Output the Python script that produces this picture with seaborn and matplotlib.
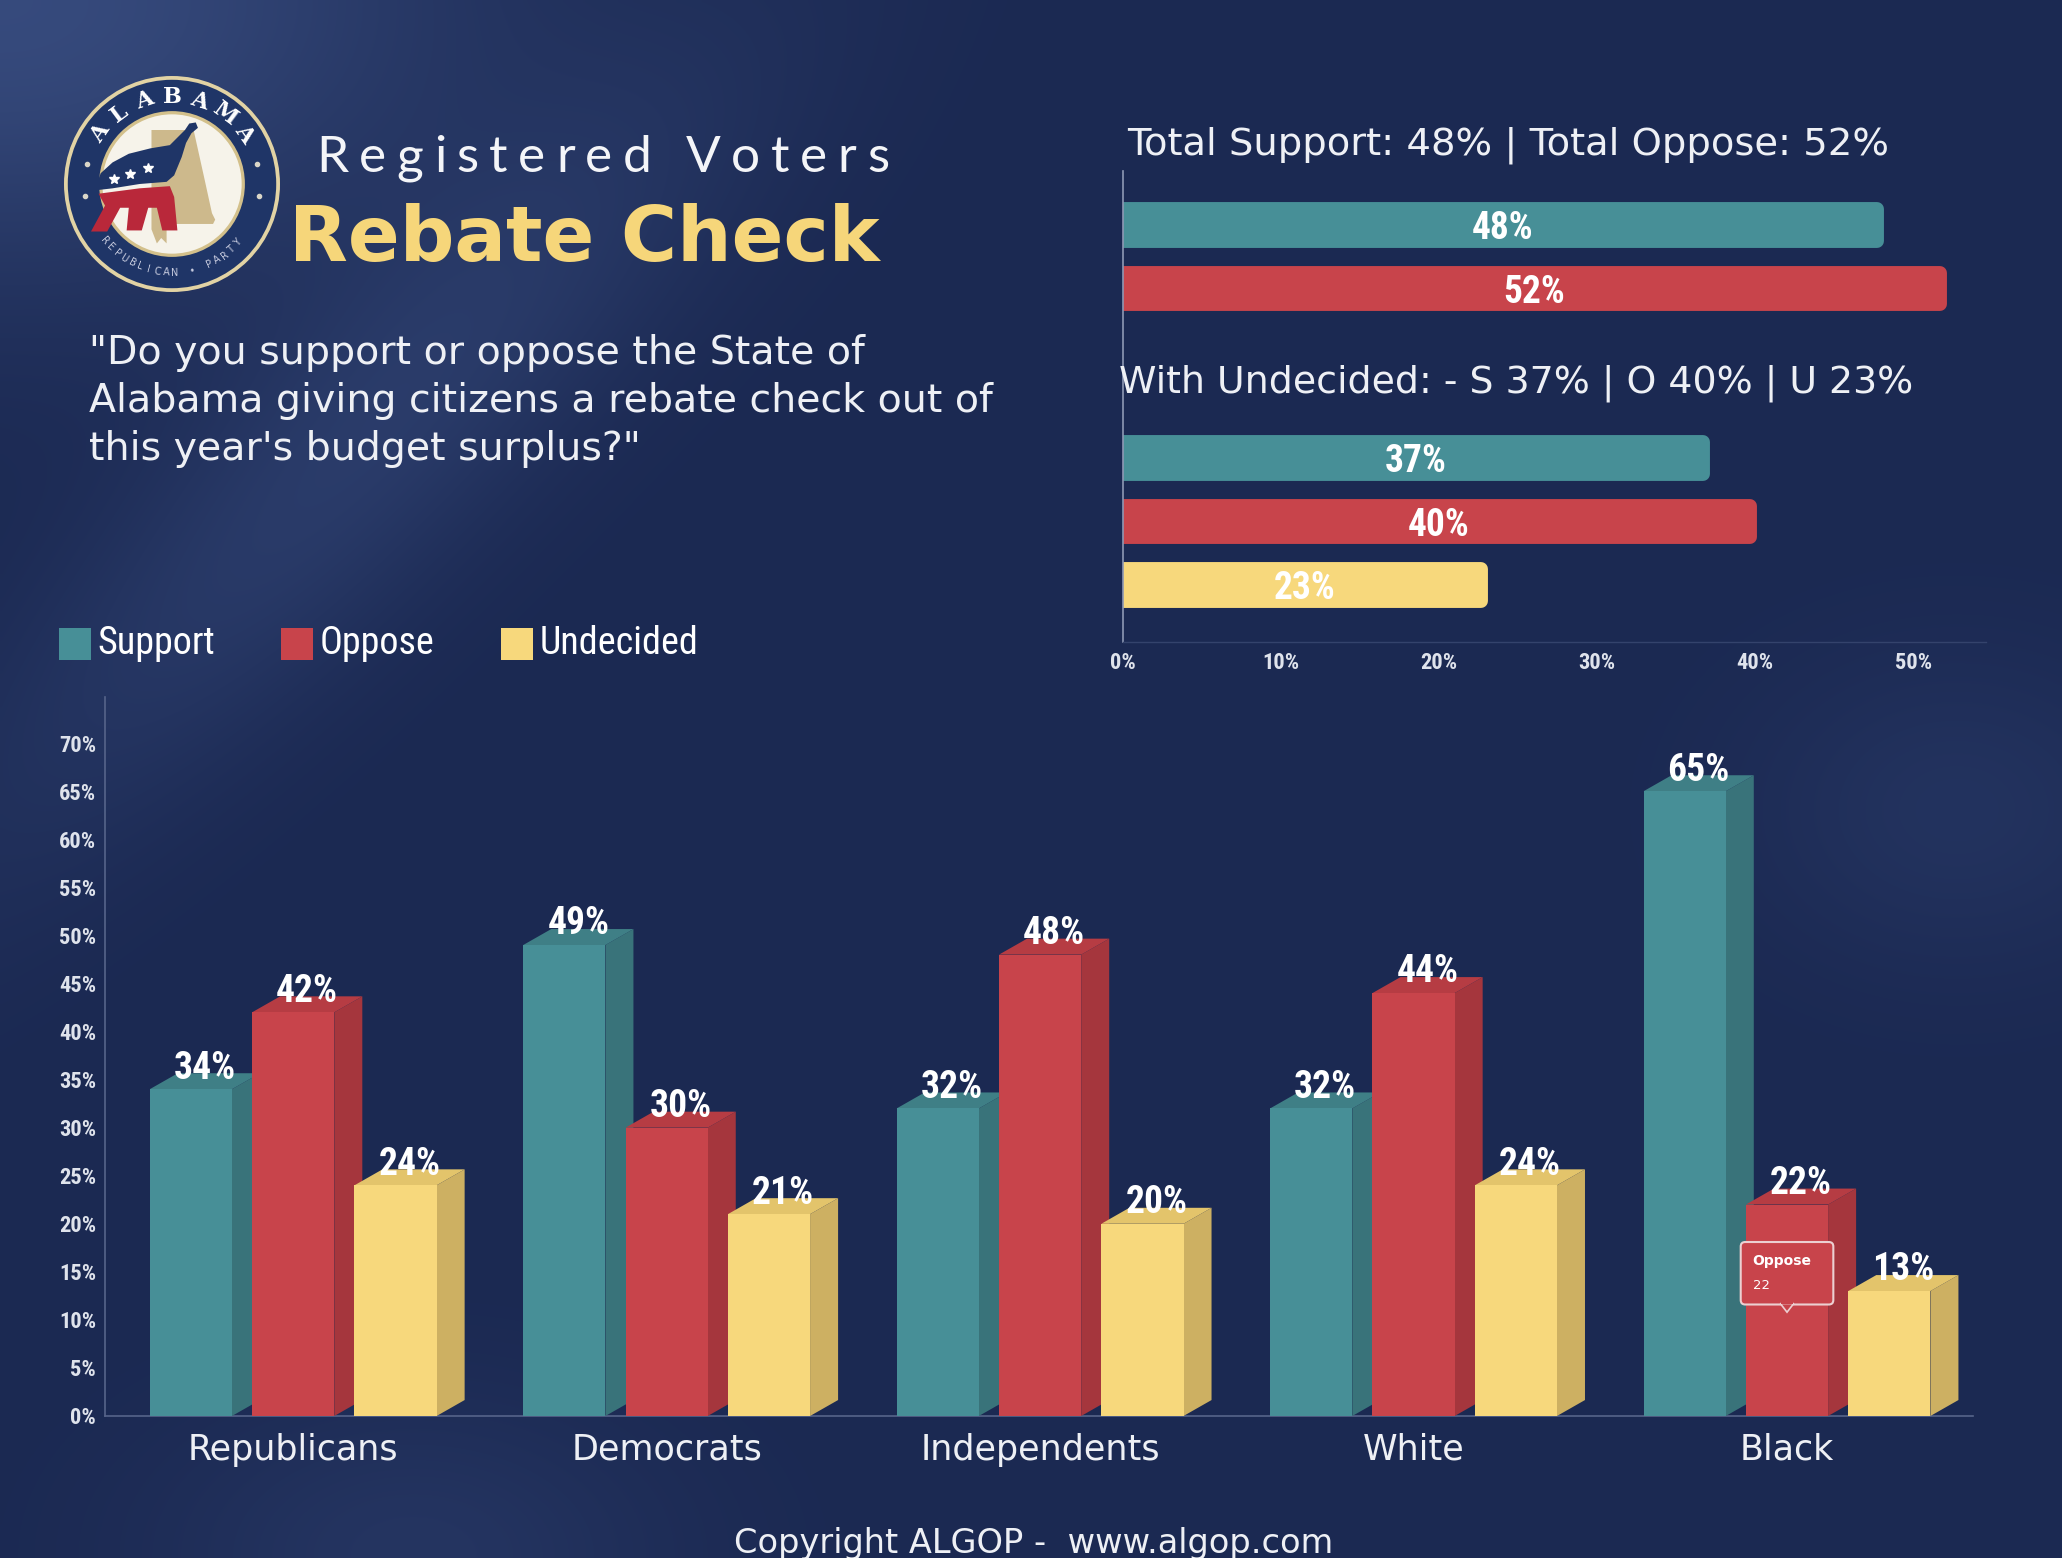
import os
import numpy as np
import pandas as pd
import matplotlib
matplotlib.use('Agg')
import matplotlib.pyplot as plt
import seaborn as sns
from matplotlib import font_manager as fm
from matplotlib.patches import Polygon, Rectangle, Circle, FancyBboxPatch

W, H = 2062, 1558

# ---- data ----
groups = ['Republicans', 'Democrats', 'Independents', 'White', 'Black']
responses = ['Support', 'Oppose', 'Undecided']
support = [34, 49, 32, 32, 65]
oppose = [42, 30, 48, 44, 22]
undecided = [24, 21, 20, 24, 13]

total_labels = ['Support', 'Oppose']
total_values = [48, 52]
undec_labels = ['Support', 'Oppose', 'Undecided']
undec_values = [37, 40, 23]

y_ticks = list(range(0, 75, 5))
top_ticks = list(range(0, 60, 10))

# ---- styles ----
front = {'Support': '#478f97', 'Oppose': '#c8444b', 'Undecided': '#f7d87c'}
side = {'Support': '#39737a', 'Oppose': '#a5363d', 'Undecided': '#cdb062'}
topc = {'Support': '#3f7f86', 'Oppose': '#b63c43', 'Undecided': '#e3c46b'}
TXT = '#eef0f5'
TICK = '#dfe3ec'
AXIS = '#56648a'
YELLOW = '#f6d67a'

# row layout of the top-right bars (gap for the second heading)
TOP_ROWS = [0, 1, 3.67, 4.67, 5.67]


def font_file(keys, fallback):
    for k in keys:
        for f in fm.fontManager.ttflist:
            b = os.path.basename(f.fname).lower().replace('-', '').replace('_', '')
            if k in b and 'italic' not in b and 'oblique' not in b:
                return fm.FontProperties(fname=f.fname)
    return fallback


cond_bold = font_file(['robotocondensedbold', 'liberationsansnarrowbold',
                       'dejavusanscondensedbold'],
                      fm.FontProperties(family='DejaVu Sans', weight='bold'))
cond_reg = font_file(['robotocondensedregular', 'liberationsansnarrowregular',
                      'dejavusanscondensed.ttf'],
                     fm.FontProperties(family='DejaVu Sans'))
body = fm.FontProperties(family='DejaVu Sans')
body_bold = fm.FontProperties(family='DejaVu Sans', weight='bold')
head_font = fm.FontProperties(family='Lato', weight='normal')
serif = fm.FontProperties(family='DejaVu Serif', weight='bold')

fig = plt.figure(figsize=(W / 100, H / 100), dpi=100, facecolor='#1b2952')
renderer = fig.canvas.get_renderer()


def fx(px):
    return px / W


def fy(px):
    return 1 - px / H


def width_of(s, prop, size=20):
    t = fig.text(0, 0, s, fontproperties=prop, fontsize=size)
    w = t.get_window_extent(renderer).width
    t.remove()
    return w


def fit(s, prop, width_px):
    return 20 * width_px / width_of(s, prop)


# ---- background ----
gy, gx = np.mgrid[0:1:390j, 0:1:515j]
base = np.array([0x1b, 0x29, 0x52]) / 255
glowc = np.array([0x3b, 0x50, 0x84]) / 255
glow = (0.85 * np.exp(-((gx - 0.0) ** 2 / 0.05 + gy ** 2 / 0.03))
        + 0.45 * np.exp(-(gx + 0.65 * gy - 0.36) ** 2 / 0.008) * np.exp(-(gy - 0.3) ** 2 / 0.06)
        + 0.3 * np.exp(-((gx - 0.2) ** 2 / 0.015 + (gy - 1.0) ** 2 / 0.01))
        + 0.25 * np.exp(-((gx - 0.95) ** 2 / 0.01 + (gy - 0.52) ** 2 / 0.01)))
glow = np.clip(glow, 0, 1)
bg = base + (glowc - base) * glow[..., None]
bg_ax = fig.add_axes([0, 0, 1, 1])
bg_ax.imshow(bg, aspect='auto', extent=[0, 1, 0, 1], interpolation='bilinear')
bg_ax.axis('off')

# ---- main grouped 3D-look bar chart ----
df = pd.DataFrame({'group': groups * 3,
                   'response': np.repeat(responses, len(groups)),
                   'value': support + oppose + undecided})

ax = fig.add_axes([fx(105), fy(1416), fx(1973 - 105), (1416 - 697) / H])
ax.set_facecolor('none')
sns.barplot(data=df, x='group', y='value', hue='response', order=groups,
            hue_order=responses, palette=front, saturation=1, width=0.822,
            errorbar=None, legend=False, ax=ax)

FRONT_W, DX, DY = 0.22, 0.075, 1.66
lab_size = fit('34%', cond_bold, 62)
for i, resp in enumerate(responses):
    for bar in ax.containers[i]:
        h = bar.get_height()
        cx = bar.get_x() + bar.get_width() / 2
        x0 = cx - FRONT_W / 2
        x1 = x0 + FRONT_W
        bar.set_x(x0)
        bar.set_width(FRONT_W)
        bar.set_linewidth(0)
        bar.set_zorder(3 + i)
        ax.add_patch(Polygon([(x1, 0), (x1 + DX, DY), (x1 + DX, h + DY), (x1, h)],
                             closed=True, fc=side[resp], lw=0, zorder=2.9 + i))
        ax.add_patch(Polygon([(x0, h), (x0 + DX, h + DY), (x1 + DX, h + DY), (x1, h)],
                             closed=True, fc=topc[resp], lw=0, zorder=2.9 + i))
        ax.text(cx + DX / 2, h + 1.1, f'{h:.0f}%', ha='center', va='baseline',
                color='white', fontproperties=cond_bold, fontsize=lab_size, zorder=10)

ax.set_xlim(-0.504, 4.498)
ax.set_ylim(0, 74.8)
ax.set_xlabel('')
ax.set_ylabel('')
ax.set_yticks(y_ticks)
ax.set_yticklabels([f'{t}%' for t in y_ticks], fontproperties=cond_bold,
                   fontsize=fit('70%', cond_bold, 37), color=TICK)
ax.set_xticks(range(len(groups)))
ax.set_xticklabels(groups, fontproperties=body,
                   fontsize=fit('Republicans', body, 211), color=TXT)
ax.tick_params(axis='both', length=0)
ax.tick_params(axis='y', pad=6.5)
ax.tick_params(axis='x', pad=12)
for s in ['top', 'right']:
    ax.spines[s].set_visible(False)
for s in ['left', 'bottom']:
    ax.spines[s].set_color(AXIS)
    ax.spines[s].set_linewidth(1.2)

# tooltip on the Black / Oppose bar
tip_bar = ax.containers[1][len(groups) - 1]
tcx = tip_bar.get_x() + tip_bar.get_width() / 2
ax.add_patch(FancyBboxPatch((tcx - 0.124, 11.6), 0.248, 6.5,
                            boxstyle='round,pad=0,rounding_size=0.012',
                            mutation_aspect=38.8, fc=front['Oppose'],
                            ec='#ecd0d2', lw=1.5, zorder=11))
ax.add_patch(Polygon([(tcx - 0.018, 11.7), (tcx + 0.018, 11.7), (tcx, 10.8)],
                     closed=True, fc=front['Oppose'], ec='#ecd0d2', lw=1.2, zorder=11.5))
ax.add_patch(Rectangle((tcx - 0.017, 11.62), 0.034, 0.5, fc=front['Oppose'],
                       lw=0, zorder=12))
ax.text(tcx - 0.092, 16.1, 'Oppose', fontproperties=body_bold, fontsize=10,
        color='white', va='center', ha='left', zorder=13)
ax.text(tcx - 0.092, 13.6, f'{oppose[-1]}', fontproperties=body, fontsize=9.5,
        color='white', va='center', ha='left', zorder=13)

# ---- top-right horizontal bars ----
df_top = pd.DataFrame({'value': total_values + undec_values,
                       'response': total_labels + undec_labels,
                       'row': TOP_ROWS})
ax2 = fig.add_axes([fx(1123), fy(642), fx(1986 - 1123), (642 - 171) / H])
ax2.set_facecolor('none')
sns.barplot(data=df_top, x='value', y='row', hue='response', orient='h',
            native_scale=True, dodge=False, palette=front, saturation=1,
            errorbar=None, legend=False, ax=ax2)

BAR_H = 0.5
ROUND = 0.32
in_size = fit('48%', cond_bold, 62)
for bar in ax2.patches:
    val = bar.get_width()
    cy = bar.get_y() + bar.get_height() / 2
    bar.set_height(BAR_H)
    bar.set_y(cy - BAR_H / 2)
    bar.set_width(val - ROUND)
    bar.set_edgecolor(bar.get_facecolor())
    bar.set_linewidth(10)
    bar.set_joinstyle('round')
    ax2.text(val / 2, cy, f'{val:.0f}%', ha='center', va='center_baseline',
             color='white', fontproperties=cond_bold, fontsize=in_size, zorder=5)

ax2.set_xlim(0, 54.6)
ax2.set_ylim(6.57, -0.85)
ax2.set_xlabel('')
ax2.set_ylabel('')
ax2.set_yticks([])
ax2.set_xticks(top_ticks)
ax2.set_xticklabels([f'{t}%' for t in top_ticks], fontproperties=cond_bold,
                    fontsize=fit('10%', cond_bold, 37), color=TICK)
ax2.tick_params(axis='x', length=0, pad=7)
for s in ['top', 'right']:
    ax2.spines[s].set_visible(False)
ax2.spines['left'].set_color('#8e98b4')
ax2.spines['left'].set_linewidth(1.2)
ax2.spines['bottom'].set_color('#34436c')
ax2.spines['bottom'].set_linewidth(1.0)

t1 = f'Total Support: {total_values[0]}% | Total Oppose: {total_values[1]}%'
fig.text(fx(1127), fy(154), t1, fontproperties=body, color=TXT,
         fontsize=fit(t1, body, 760), va='baseline')
t2 = (f'With Undecided: - S {undec_values[0]}% | O {undec_values[1]}% '
      f'| U {undec_values[2]}%')
fig.text(fx(1119), fy(392), t2, fontproperties=body, color=TXT,
         fontsize=fit(t2, body, 795), va='baseline')


# ---- header ----
def spaced_text(x_px, base_px, s, prop, size, width_px, color):
    ref = width_of('||', prop, size)
    adv = [width_of('|' + ch + '|', prop, size) - ref for ch in s]
    sp = (width_px - sum(adv)) / (len(s) - 1)
    x = x_px
    for ch, a in zip(s, adv):
        fig.text(fx(x), fy(base_px), ch, fontproperties=prop, fontsize=size,
                 color=color, va='baseline', ha='left')
        x += a + sp


spaced_text(316, 172, 'Registered Voters', head_font, 37, 573, '#f4f5f8')
fig.text(fx(289), fy(261), 'Rebate Check', fontproperties=body_bold,
         fontsize=fit('Rebate Check', body_bold, 591), color=YELLOW, va='baseline')

q_lines = ['"Do you support or oppose the State of',
           'Alabama giving citizens a rebate check out of',
           'this year\'s budget surplus?"']
q_size = fit(q_lines[1], body, 903)
for line, base_px in zip(q_lines, [364, 412, 460]):
    fig.text(fx(89), fy(base_px), line, fontproperties=body, fontsize=q_size,
             color=TXT, va='baseline')

# legend
leg = [('Support', 59, 97), ('Oppose', 281, 320), ('Undecided', 501, 540)]
leg_size = fit('Support', cond_reg, 117)
for name, sq, tx in leg:
    fig.patches.append(Rectangle((fx(sq), fy(660)), fx(32), 32 / H,
                                 transform=fig.transFigure, fc=front[name], lw=0))
    fig.text(fx(tx), fy(654), name, fontproperties=cond_reg, fontsize=leg_size,
             color='white', va='baseline')

cp = 'Copyright ALGOP -  www.algop.com'
fig.text(fx(734), fy(1553), cp, fontproperties=body, color=TXT,
         fontsize=fit(cp, body, 599), va='baseline')

# ---- logo ----
lg = fig.add_axes([fx(64), fy(292), fx(216), 216 / H])
lg.set_xlim(-1, 1)
lg.set_ylim(-1, 1)
lg.axis('off')
lg.add_patch(Circle((0, 0), 1.0, fc='#e2d3a4', lw=0))
lg.add_patch(Circle((0, 0), 0.965, fc='#1f3567', lw=0))
lg.add_patch(Circle((0, 0), 0.675, fc='#d3c08b', lw=0))
lg.add_patch(Circle((0, 0), 0.645, fc='#f6f3ea', lw=0))
for j, ch in enumerate('ALABAMA'):
    a = np.deg2rad(145 - j * (145 - 35) / 6)
    lg.text(0.81 * np.cos(a), 0.81 * np.sin(a), ch, fontproperties=serif,
            fontsize=16, color='white', ha='center', va='center',
            rotation=np.rad2deg(a) - 90)
rp = 'REPUBLICAN • PARTY'
for j, ch in enumerate(rp):
    a = np.deg2rad(220 + j * (318 - 220) / (len(rp) - 1))
    lg.text(0.82 * np.cos(a), 0.82 * np.sin(a), ch, fontproperties=body,
            fontsize=7, color='#c9cde0', ha='center', va='center',
            rotation=np.rad2deg(a) + 90)
for a in [167, 188, 13, -8]:
    r = np.deg2rad(a)
    lg.plot(0.81 * np.cos(r), 0.81 * np.sin(r), 'o', ms=3, color='#d9d6c8')
state = [(-0.19, 0.5), (0.2, 0.5), (0.3, 0.05), (0.37, -0.27), (0.4, -0.33),
         (0.38, -0.37), (-0.05, -0.37), (-0.05, -0.55), (-0.1, -0.5),
         (-0.14, -0.55), (-0.19, -0.42)]
lg.add_patch(Polygon(state, closed=True, fc='#cdb98c', lw=0))
body_poly = [(-0.72, -0.06), (-0.66, 0.1), (-0.55, 0.2), (-0.4, 0.28), (-0.2, 0.33),
             (-0.02, 0.36), (0.06, 0.44), (0.12, 0.5), (0.16, 0.56), (0.22, 0.57),
             (0.24, 0.52), (0.18, 0.47), (0.13, 0.38), (0.09, 0.25), (0.02, 0.08),
             (-0.05, 0.02), (-0.3, 0.0), (-0.55, -0.04)]
lg.add_patch(Polygon(body_poly, closed=True, fc='#1f3567', lw=0))
legs = [(-0.68, -0.09), (-0.3, -0.04), (-0.02, -0.02), (0.02, -0.12), (0.05, -0.43),
        (-0.09, -0.43), (-0.14, -0.22), (-0.22, -0.22), (-0.28, -0.43), (-0.42, -0.43),
        (-0.4, -0.22), (-0.48, -0.22), (-0.6, -0.44), (-0.75, -0.44), (-0.62, -0.2)]
lg.add_patch(Polygon(legs, closed=True, fc='#b9283a', lw=0))
lg.plot([-0.54, -0.39, -0.22], [0.05, 0.09, 0.15], '*', ms=7, color='white')

fig.savefig('out.png', dpi=100, facecolor=fig.get_facecolor())
